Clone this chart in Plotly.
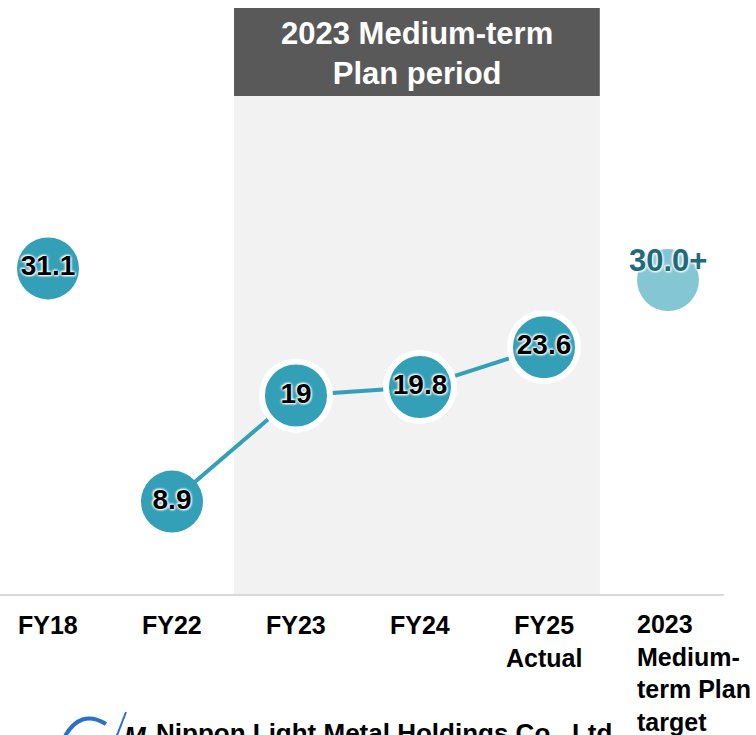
import plotly.graph_objects as go

categories = ["FY18", "FY22", "FY23", "FY24", "FY25", "target"]
cat_labels = ["FY18", "FY22", "FY23", "FY24", "FY25<br>Actual", "2023<br>Medium-<br>term Plan<br>target"]
values = [31.1, 8.9, 19.0, 19.8, 23.6]
value_text = ["31.1", "8.9", "19", "19.8", "23.6"]
target_value = 30.0
target_text = "30.0+"
period_title = "2023 Medium-term<br>Plan period"
company = "Nippon Light Metal Holdings Co., Ltd"

W, H = 756, 735
PX_PER_CAT = 124.0
PX_PER_UNIT = 10.5
X0_PX = 48.0
ZERO_PX = 595.0
xmin = -X0_PX / PX_PER_CAT
xmax = xmin + W / PX_PER_CAT
ymin = -(H - ZERO_PX) / PX_PER_UNIT
ymax = ymin + H / PX_PER_UNIT

def ypx(p):  # pixel from top -> data y
    return ymax - p / PX_PER_UNIT

FONT = "Liberation Sans, Arial"
TEAL = "#33a0b8"
DARK_TEAL = "#1f6a7b"
glow = "0px 0px 3px white, 0px 0px 3px white, 1px 1px 2px white, -1px -1px 2px white"

xs = list(range(len(values)))
fig = go.Figure()

# connecting line FY22 -> FY25
fig.add_trace(go.Scatter(x=xs[1:], y=values[1:], mode="lines",
                         line=dict(color=TEAL, width=4), hoverinfo="skip", showlegend=False))
# plain markers FY18, FY22
fig.add_trace(go.Scatter(x=xs[:2], y=values[:2], mode="markers+text",
                         marker=dict(size=62, color=TEAL, line=dict(width=0)),
                         text=value_text[:2], textposition="middle center",
                         textfont=dict(family=FONT, size=28, color="black",
                                       weight="bold", shadow=glow),
                         showlegend=False))
# outlined markers FY23-FY25
fig.add_trace(go.Scatter(x=xs[2:], y=values[2:], mode="markers+text",
                         marker=dict(size=68, color=TEAL, line=dict(width=6, color="white")),
                         text=value_text[2:], textposition="middle center",
                         textfont=dict(family=FONT, size=28, color="black",
                                       weight="bold", shadow=glow),
                         showlegend=False))
# target marker (patterned look)
fig.add_trace(go.Scatter(x=[5], y=[target_value], mode="markers",
                         marker=dict(size=62, color="rgba(51,160,184,0.6)", line=dict(width=0)),
                         showlegend=False))
fig.add_annotation(x=5, y=target_value, yshift=20, text="<b>" + target_text + "</b>",
                   showarrow=False,
                   font=dict(family=FONT, size=31, color=DARK_TEAL, shadow=glow))

# plan period shading and header
fig.add_shape(type="rect", xref="x", yref="y", x0=1.5, x1=4.45, y0=0, y1=ypx(96),
              fillcolor="#f2f2f2", line=dict(width=0), layer="below")
fig.add_shape(type="rect", xref="x", yref="y", x0=1.5, x1=4.45, y0=ypx(96), y1=ypx(8),
              fillcolor="#595959", line=dict(width=0), layer="below")
fig.add_annotation(x=(1.5 + 4.45) / 2, y=ypx(53), text="<b>" + period_title + "</b>",
                   showarrow=False,
                   font=dict(family=FONT, size=31, color="white"))
# baseline
fig.add_shape(type="line", xref="paper", yref="y", x0=0, x1=724 / W, y0=0, y1=0,
              line=dict(color="#d9d9d9", width=2))

# category labels
for i, lab in enumerate(cat_labels):
    if i < 5:
        fig.add_annotation(x=i, y=ypx(609), yanchor="top", xanchor="center",
                           text="<b>" + lab + "</b>", showarrow=False, align="center",
                           font=dict(family=FONT, size=25, color="black"))
    else:
        fig.add_annotation(x=i, xshift=-33, y=ypx(608), yanchor="top", xanchor="left",
                           text="<b>" + lab + "</b>", showarrow=False, align="left",
                           font=dict(family=FONT, size=25, color="black"))

# company logo (partially off-page)
BLUE = "#2a6fc9"
fig.add_shape(type="path", xref="paper", yref="paper",
              path="M %f %f Q %f %f %f %f" % (64 / W, 1 - 738 / H, 80 / W, 1 - 708 / H, 106 / W, 1 - 724 / H),
              line=dict(color=BLUE, width=4))
fig.add_shape(type="line", xref="paper", yref="paper",
              x0=116 / W, y0=1 - 738 / H, x1=126 / W, y1=1 - 712 / H,
              line=dict(color=BLUE, width=2))
fig.add_annotation(xref="paper", yref="paper", x=122 / W, y=1 - 719 / H, yanchor="top", xanchor="left",
                   text="<b><i>M</i></b>", showarrow=False,
                   font=dict(family=FONT, size=26, color="black"))
fig.add_annotation(xref="paper", yref="paper", x=154 / W, y=1 - 716 / H, yanchor="top", xanchor="left",
                   text="<b>" + company + "</b>", showarrow=False,
                   font=dict(family=FONT, size=26, color="black"))

fig.update_layout(width=W, height=H, margin=dict(l=0, r=0, t=0, b=0),
                  paper_bgcolor="white", plot_bgcolor="rgba(0,0,0,0)",
                  xaxis=dict(range=[xmin, xmax], visible=False, fixedrange=True),
                  yaxis=dict(range=[ymin, ymax], visible=False, fixedrange=True),
                  showlegend=False)
fig.write_html("out.html")
